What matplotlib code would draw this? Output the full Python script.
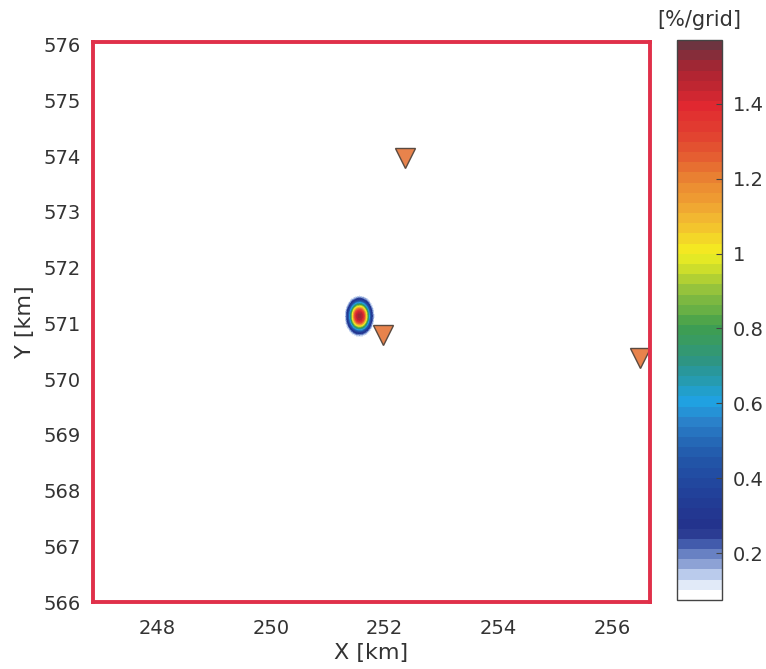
import numpy as np
import matplotlib
matplotlib.use("Agg")
import matplotlib.pyplot as plt
from matplotlib.colors import LinearSegmentedColormap, BoundaryNorm
from matplotlib.ticker import FuncFormatter

# plume parameters
src_x, src_y = 251.56, 571.13      # km
peak = 1.5                         # %/grid
sig_x, sig_y = 0.13, 0.185         # km
shape_p = 2.5                      # somewhat flat-topped profile

# receptors (triangles)
rec_x = [252.36, 251.98, 256.48]
rec_y = [573.96, 570.80, 570.38]

xlim = (246.88, 256.66)
ylim = (566.0, 576.05)
xticks = [248, 250, 252, 254, 256]
yticks = list(range(566, 577))
cbar_ticks = [0.2, 0.4, 0.6, 0.8, 1.0, 1.2, 1.4]
vmin, vmax = 0.075, 1.57

# colour anchors (value, colour)
cmap_vals = [0.075, 0.12, 0.2, 0.25, 0.35, 0.45, 0.55, 0.6, 0.7, 0.8, 0.9, 1.0, 1.1, 1.2, 1.3, 1.4, 1.5, 1.57]
cmap_cols = ["#ffffff", "#c6d6f2", "#4a66b4", "#23308a", "#22419a", "#2258aa", "#2a84cc", "#1fa3e2",
             "#2c9488", "#3f9e4e", "#93c23c", "#f4f020", "#f2b432", "#ea8432", "#e24a30", "#e02830",
             "#a82432", "#6e3440"]

pos = [(v - vmin) / (vmax - vmin) for v in cmap_vals]
cmap = LinearSegmentedColormap.from_list("plume", list(zip(pos, cmap_cols)), N=256)
levels = np.linspace(vmin, vmax, 56)
norm = BoundaryNorm(levels, cmap.N)

xs = np.linspace(xlim[0], xlim[1], 700)
ys = np.linspace(ylim[0], ylim[1], 700)
X, Y = np.meshgrid(xs, ys)
R = np.sqrt(((X - src_x) / sig_x) ** 2 + ((Y - src_y) / sig_y) ** 2)
Z = peak * np.exp(-0.5 * R ** shape_p)
Z = np.ma.masked_less(Z, vmin)

fig = plt.figure(figsize=(7.66, 6.69), dpi=100)
ax = fig.add_axes([0.1214, 0.1001, 0.7272, 0.8371])
cf = ax.contourf(X, Y, Z, levels=levels, cmap=cmap, norm=norm)

ax.plot(rec_x, rec_y, linestyle="none", marker="v", markersize=15,
        markerfacecolor="#e8834c", markeredgecolor="#5a4a40", markeredgewidth=1.0)

ax.set_xlim(*xlim)
ax.set_ylim(*ylim)
ax.set_xticks(xticks)
ax.set_yticks(yticks)
ax.tick_params(axis="y", length=0, labelsize=14, labelcolor="#333333", pad=9)
ax.tick_params(axis="x", length=0, labelsize=14, labelcolor="#333333", pad=12)
for s in ax.spines.values():
    s.set_color("#e0304a")
    s.set_linewidth(2.8)
ax.set_xlabel("X [km]", fontsize=16, color="#333333", labelpad=4)
ax.set_ylabel("Y [km]", fontsize=16, color="#333333", labelpad=6)

cax = fig.add_axes([0.8838, 0.1031, 0.0588, 0.8371])
cb = fig.colorbar(cf, cax=cax, ticks=cbar_ticks,
                  format=FuncFormatter(lambda v, p: "%g" % round(v, 2)))
cb.minorticks_off()
cb.outline.set_edgecolor("#444444")
cb.outline.set_linewidth(1.0)
cax.tick_params(direction="in", length=4, labelsize=14, labelcolor="#333333", color="#444444", pad=8)
cax.set_title("[%/grid]", fontsize=15, color="#333333", pad=10)

fig.savefig("out.png", dpi=100)
